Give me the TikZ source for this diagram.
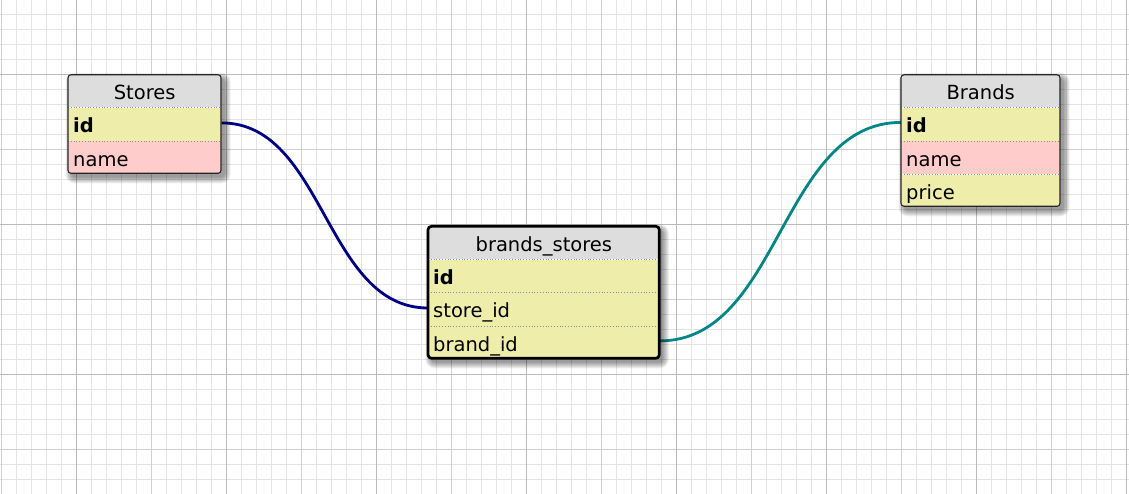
\documentclass[tikz,border=0pt]{standalone}
\usepackage{fontspec}
\setmainfont{DejaVu Sans}
\usetikzlibrary{calc}

\definecolor{hdrgrey}{HTML}{DDDDDD}
\definecolor{keyyellow}{HTML}{EEEEAA}
\definecolor{pinkrow}{HTML}{FFCCCC}
\definecolor{navylink}{HTML}{000088}
\definecolor{teallink}{HTML}{008888}
\definecolor{gridminor}{HTML}{E4E4E4}
\definecolor{gridmid}{HTML}{D0D0D0}
\definecolor{gridmajor}{HTML}{BBBBBB}

\pgfdeclarelayer{links}
\pgfsetlayers{links,main}

% soft drop shadow: stacked translucent rounded boxes, offset down-right
\newcommand{\softshadow}[4]{%
  \foreach \r in {0,1,...,6}{%
    \fill[black, fill opacity=0.065, rounded corners={3pt+\r pt}]
      ({#1+3.5-\r},{#2+4-\r}) rectangle ({#3+3.5+\r},{#4+4+\r});
  }%
  \fill[white, rounded corners=3pt] (#1,#2) rectangle (#3,#4);%
}

\begin{document}
\begin{tikzpicture}[x=1pt,y=-1pt,
  every node/.style={font=\fontsize{19.5}{22}\selectfont},
  minorline/.style={draw=gridminor, line width=1.5pt},
  midline/.style={draw=gridmid, line width=1.5pt},
  majorline/.style={draw=gridmajor, line width=1.5pt},
  hdr/.style={anchor=north west, inner sep=0pt, minimum height=32.5pt,
    fill=hdrgrey, text height=16.5pt, text depth=0pt},
  row/.style={anchor=north west, inner sep=0pt, inner xsep=5pt,
    minimum height=33pt, text height=16.5pt, text depth=0pt, align=left},
  sep/.style={draw=black!45, dotted, line width=0.8pt},
  thinborder/.style={draw=black!85, line width=1.1pt, rounded corners=3pt},
  thickborder/.style={draw=black, line width=2.7pt, rounded corners=3.5pt},
  link/.style={line width=2.8pt}
]
\useasboundingbox (0,0) rectangle (1129,494);

% squared paper
\begin{pgfonlayer}{links}
  \fill[white] (0,0) rectangle (1129,494);
  \begin{scope}
    \clip (0,0) rectangle (1129,494);
    \foreach \i in {0,...,75} \draw[minorline] ({1.7+15*\i},0) -- ++(0,494);
    \foreach \j in {0,...,33} \draw[minorline] (0,{-0.7+15*\j}) -- ++(1129,0);
    \foreach \i in {0,...,15} \draw[midline] ({1.7+75*\i},0) -- ++(0,494);
    \foreach \j in {0,...,7} \draw[midline] (0,{-0.7+75*\j}) -- ++(1129,0);
    \foreach \i in {0,...,7} \draw[majorline] ({76.7+150*\i},0) -- ++(0,494);
    \foreach \j in {0,...,3} \draw[majorline] (0,{74.3+150*\j}) -- ++(1129,0);
  \end{scope}
\end{pgfonlayer}

% ---- Stores ----
\softshadow{68}{74.8}{221}{173.3}
\begin{scope}
  \clip[rounded corners=3pt] (68,74.8) rectangle (221,173.3);
  \node[hdr, minimum width=153pt] (stores) at (68,74.8) {Stores};
  \node[row, fill=keyyellow, text width=143pt] (stores-id) at (stores.south west) {\textbf{id}};
  \node[row, fill=pinkrow, text width=143pt] (stores-name) at (stores-id.south west) {name};
\end{scope}
\draw[sep] (stores.south west) -- (stores.south east);
\draw[sep] (stores-id.south west) -- (stores-id.south east);
\draw[thinborder] (68,74.8) rectangle (221,173.3);

% ---- Brands ----
\softshadow{901}{74.8}{1060}{206.3}
\begin{scope}
  \clip[rounded corners=3pt] (901,74.8) rectangle (1060,206.3);
  \node[hdr, minimum width=159pt] (brands) at (901,74.8) {Brands};
  \node[row, fill=keyyellow, text width=149pt] (brands-id) at (brands.south west) {\textbf{id}};
  \node[row, fill=pinkrow, text width=149pt] (brands-name) at (brands-id.south west) {name};
  \node[row, fill=keyyellow, text width=149pt] (brands-price) at (brands-name.south west) {price};
\end{scope}
\draw[sep] (brands.south west) -- (brands.south east);
\draw[sep] (brands-id.south west) -- (brands-id.south east);
\draw[sep] (brands-name.south west) -- (brands-name.south east);
\draw[thinborder] (901,74.8) rectangle (1060,206.3);

% ---- brands_stores (selected, heavy frame) ----
\softshadow{428}{226.3}{659.3}{358.3}
\begin{scope}
  \clip[rounded corners=3.5pt] (428,226.3) rectangle (659.3,358.3);
  \node[hdr, minimum width=231.3pt, minimum height=32.7pt] (bs) at (428,226.3) {brands\_stores};
  \node[row, fill=keyyellow, text width=221.3pt] (bs-id) at (bs.south west) {\textbf{id}};
  \node[row, fill=keyyellow, text width=221.3pt] (bs-store) at (bs-id.south west) {store\_id};
  \node[row, fill=keyyellow, text width=221.3pt] (bs-brand) at (bs-store.south west) {brand\_id};
\end{scope}
\draw[sep] (bs.south west) -- (bs.south east);
\draw[sep] (bs-id.south west) -- (bs-id.south east);
\draw[sep] (bs-store.south west) -- (bs-store.south east);
\draw[thickborder] (428,226.3) rectangle (659.3,358.3);

% ---- relations ----
\begin{pgfonlayer}{links}
  \coordinate (m1) at ($(stores-id.east)!0.5!(bs-store.west)$);
  \draw[link, navylink] ([yshift=1.5pt]stores-id.east)
    .. controls ([yshift=1.5pt]m1 |- stores-id.east) and ([yshift=1.5pt]m1 |- bs-store.west)
    .. ([yshift=1.5pt]bs-store.west);
  \coordinate (m2) at ($(bs-brand.east)!0.5!(brands-id.west)$);
  \draw[link, teallink] ([yshift=2pt]bs-brand.east)
    .. controls ([yshift=2pt]m2 |- bs-brand.east) and ([yshift=2pt]m2 |- brands-id.west)
    .. ([yshift=2pt]brands-id.west);
\end{pgfonlayer}
\end{tikzpicture}
\end{document}
